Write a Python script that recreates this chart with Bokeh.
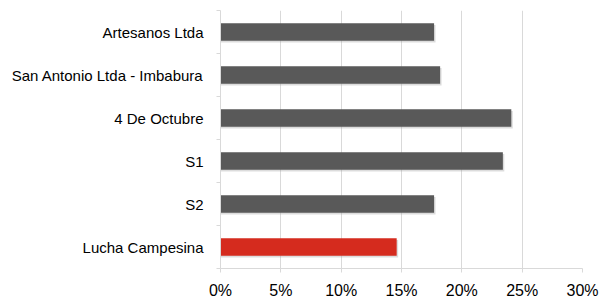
from bokeh.plotting import figure
from bokeh.models import ColumnDataSource, FixedTicker, Range1d
from bokeh.transform import dodge
from bokeh.embed import file_html
from bokeh.resources import INLINE

categories = ["Artesanos Ltda", "San Antonio Ltda - Imbabura", "4 De Octubre",
              "S1", "S2", "Lucha Campesina"]
values = [17.7, 18.2, 24.1, 23.4, 17.7, 14.6]
colors = ["#595959", "#595959", "#595959", "#595959", "#595959", "#D52B1E"]
x_ticks = [0, 5, 10, 15, 20, 25, 30]
x_tick_labels = ["0%", "5%", "10%", "15%", "20%", "25%", "30%"]

n = len(categories)
ypos = [n - i - 0.5 for i in range(n)]
src = ColumnDataSource(dict(y=ypos, v=values, c=colors, cat=categories))

p = figure(width=602, height=301, output_backend="svg", toolbar_location=None,
           x_range=Range1d(0, 30), y_range=Range1d(0, n),
           min_border_left=220, min_border_right=20, min_border_top=10,
           min_border_bottom=29)
p.outline_line_color = None
p.background_fill_color = "white"

# soft shadow
p.hbar(y=dodge("y", -0.04), right=dodge("v", 0.12), left=0, height=0.41, source=src,
       fill_color="#9a9a9a", fill_alpha=0.35, line_color=None)
p.hbar(y="y", right="v", left=0, height=0.41, source=src,
       fill_color="c", line_color=None)

# x axis
p.xaxis.ticker = FixedTicker(ticks=x_ticks, minor_ticks=[])
p.xaxis.major_label_overrides = {t: l for t, l in zip(x_ticks, x_tick_labels)}
p.xaxis.axis_line_color = "#d9d9d9"
p.xaxis.major_tick_line_color = "#d9d9d9"
p.xaxis.major_tick_out = 4
p.xaxis.major_tick_in = 0
p.xaxis.major_label_standoff = 9
p.xaxis.major_label_text_font = "Liberation Sans"
p.xaxis.major_label_text_font_size = "16px"
p.xaxis.major_label_text_color = "#000000"

# y axis
p.yaxis.ticker = FixedTicker(ticks=ypos, minor_ticks=list(range(n + 1)))
p.yaxis.major_label_overrides = {y: c for y, c in zip(ypos, categories)}
p.yaxis.axis_line_color = "#d9d9d9"
p.yaxis.major_tick_line_color = None
p.yaxis.major_tick_out = 0
p.yaxis.major_tick_in = 0
p.yaxis.minor_tick_line_color = "#d9d9d9"
p.yaxis.minor_tick_out = 4
p.yaxis.minor_tick_in = 0
p.yaxis.major_label_standoff = 13
p.yaxis.major_label_text_font = "Liberation Sans"
p.yaxis.major_label_text_font_size = "15px"
p.yaxis.major_label_text_color = "#000000"

p.xgrid.grid_line_color = "#d9d9d9"
p.xgrid.grid_line_width = 1
p.ygrid.grid_line_color = None

open("out.html", "w").write(file_html(p, INLINE))
